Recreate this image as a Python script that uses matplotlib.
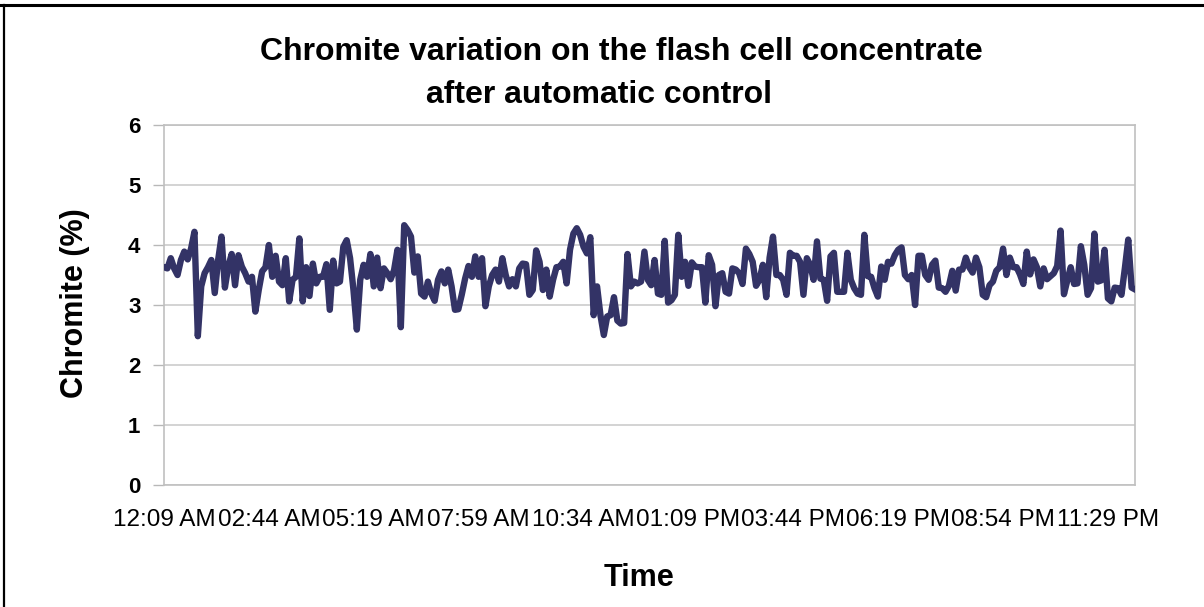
import matplotlib
matplotlib.use("Agg")
import matplotlib.pyplot as plt
from matplotlib.lines import Line2D

plt.rcParams['font.family'] = ['Liberation Sans', 'DejaVu Sans']

# chromite readings (%), one per sample
chromite_a = [3.63, 3.61, 3.78, 3.61, 3.5, 3.75, 3.89, 3.76, 3.94, 4.22, 2.48, 3.31, 3.53, 3.63,
              3.75, 3.2, 3.75, 4.14, 3.29, 3.64, 3.85, 3.33, 3.83, 3.64, 3.53, 3.39, 3.47, 2.89,
              3.25, 3.56, 3.63, 4.0, 3.47, 3.82, 3.39, 3.33, 3.78, 3.06, 3.42, 3.47, 4.11, 3.06,
              3.63, 3.15, 3.69, 3.36, 3.47, 3.47, 3.68, 2.92, 3.74, 3.36, 3.39, 3.97, 4.08, 3.78,
              3.25, 2.59, 3.42, 3.67, 3.47, 3.85, 3.31, 3.79, 3.28, 3.61, 3.53, 3.43, 3.58, 3.92]
chromite_b = [2.63, 4.33, 4.25, 4.14, 3.54, 3.81, 3.19, 3.14, 3.39, 3.19, 3.07, 3.42, 3.56, 3.36,
              3.59, 3.31, 2.92, 2.93, 3.17, 3.44, 3.65, 3.47, 3.81, 3.47, 3.78, 2.98, 3.31, 3.5,
              3.59, 3.39, 3.78, 3.5, 3.31, 3.43, 3.31, 3.61, 3.69, 3.68, 3.17, 3.25, 3.91, 3.72,
              3.25, 3.59, 3.14, 3.42, 3.63, 3.64, 3.72, 3.36, 3.92, 4.19, 4.28, 4.17, 3.97, 3.86,
              4.13, 2.83, 3.31, 2.83, 2.5, 2.81, 2.83, 3.13, 2.74, 2.69, 2.7, 3.85, 3.31, 3.39,
              3.36, 3.39, 3.89, 3.42, 3.33, 3.75]
chromite_c = [3.19, 3.17, 4.07, 3.04, 3.08, 3.17, 4.17, 3.47, 3.72, 3.32, 3.71, 3.64, 3.63, 3.63,
              3.04, 3.83, 3.67, 2.98, 3.5, 3.53, 3.22, 3.19, 3.61, 3.59, 3.53, 3.35, 3.94, 3.85,
              3.72, 3.32, 3.42, 3.67, 3.13, 3.79, 4.14, 3.5, 3.5, 3.42, 3.17, 3.87, 3.82, 3.82,
              3.72, 3.17, 3.78, 3.67, 3.42, 4.06, 3.44, 3.42, 3.07, 3.81, 3.87, 3.22, 3.22, 3.22,
              3.87, 3.42, 3.28, 3.19, 3.17, 4.17, 3.48, 3.47, 3.28, 3.14, 3.64, 3.42, 3.72, 3.69,
              3.83, 3.92, 3.96]
chromite_d = [3.5, 3.43, 3.5, 3.0, 3.82, 3.82, 3.5, 3.42, 3.67, 3.74, 3.29, 3.28, 3.22, 3.32,
              3.57, 3.24, 3.59, 3.59, 3.79, 3.63, 3.54, 3.79, 3.63, 3.17, 3.13, 3.33, 3.39, 3.57,
              3.63, 3.94, 3.5, 3.79, 3.63, 3.63, 3.51, 3.35, 3.89, 3.51, 3.76, 3.63, 3.31, 3.61,
              3.43, 3.48, 3.53, 3.65, 4.24, 3.18, 3.41, 3.63, 3.35, 3.36, 3.98, 3.67, 3.17, 3.28,
              4.19, 3.39, 3.41, 3.92, 3.11, 3.06, 3.29, 3.28, 3.17, 3.61, 4.09, 3.29, 3.26]
chromite = chromite_a + chromite_b + chromite_c + chromite_d

time_labels = ['12:09 AM', '02:44 AM', '05:19 AM', '07:59 AM', '10:34 AM',
               '01:09 PM', '03:44 PM', '06:19 PM', '08:54 PM', '11:29 PM']
label_every = 31  # one time label every 31 samples
y_ticks = [0, 1, 2, 3, 4, 5, 6]

W, H = 1204, 607
fig = plt.figure(figsize=(W / 100, H / 100), dpi=100)
ax = fig.add_axes([164 / W, 1 - 485 / H, (1135 - 164) / W, (485 - 125) / H])

x = list(range(len(chromite)))
ax.plot(x, chromite, color='#333366', linewidth=4.6, solid_joinstyle='round', zorder=3)

ax.set_xlim(0, len(chromite) - 1)
ax.set_ylim(0, 6)
ax.set_yticks(y_ticks)
ax.set_yticklabels([str(v) for v in y_ticks], fontsize=16, fontweight='bold')
ax.set_xticks(x[::label_every][:len(time_labels)])
ax.set_xticklabels(time_labels, fontsize=17.5)
ax.tick_params(axis='x', length=0, pad=17)
ax.tick_params(axis='y', length=8, width=1, color='#b8b8b8', pad=9)
ax.grid(axis='y', color='#cccccc', linewidth=1.2)
ax.set_axisbelow(True)
for s in ax.spines.values():
    s.set_color('#c0c0c0')
    s.set_linewidth(1.2)

# titles and axis labels
fig.text(621 / W, 1 - 52 / H, 'Chromite variation on the flash cell concentrate',
         ha='center', va='center', fontsize=23, fontweight='bold')
fig.text(599 / W, 1 - 95 / H, 'after automatic control',
         ha='center', va='center', fontsize=23, fontweight='bold')
fig.text(75 / W, 1 - 303 / H, 'Chromite (%)', rotation=90,
         ha='center', va='center', fontsize=22, fontweight='bold')
fig.text(639 / W, 1 - 578 / H, 'Time', ha='center', va='center',
         fontsize=22, fontweight='bold')

# frame lines of the page around the chart
fig.add_artist(Line2D([0, 1], [1 - 4.5 / H, 1 - 4.5 / H], color='black', linewidth=2.2,
                      transform=fig.transFigure))
fig.add_artist(Line2D([3.5 / W, 3.5 / W], [0, 1 - 4.5 / H], color='black', linewidth=1.6,
                      transform=fig.transFigure))

fig.savefig('out.png', dpi=100)
